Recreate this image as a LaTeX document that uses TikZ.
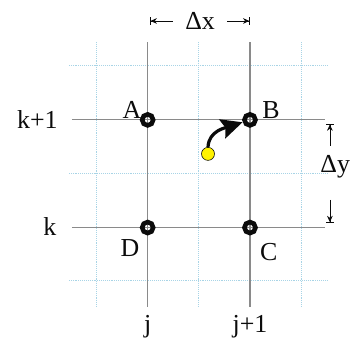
\documentclass[tikz,border=0pt]{standalone}
\usepackage{fontspec}
\setmainfont{Liberation Serif}
\usepackage{tikz}
\usetikzlibrary{arrows.meta,positioning}
\definecolor{mgline}{HTML}{8A8A8A}
\definecolor{mgdot}{HTML}{A8D4E6}
\definecolor{mgpart}{HTML}{FFF200}
\definecolor{mgink}{HTML}{0B0B0B}
\tikzset{
  gridl/.style={draw=mgline,line width=1.2bp},
  gridd/.style={draw=mgdot,line width=0.9bp,densely dotted},
  ring/.style={circle,draw=mgink,line width=4.6bp,minimum size=11bp,inner sep=0pt},
  part/.style={circle,draw=mgink,line width=0.6bp,fill=mgpart,minimum size=13bp,inner sep=0pt},
  lab/.style={font=\fontsize{26}{30}\selectfont,text=mgink,inner sep=0pt},
  flowe/.style={-{Stealth[length=7.5mm,width=7mm,inset=1.2mm]},line width=3.2bp,draw=mgink},
  dime/.style={-{Stealth[length=2.2mm,width=2mm]Bar[width=2.6mm]},line width=0.7bp,draw=mgink},
}

\begin{document}
\begin{tikzpicture}
  \useasboundingbox (0,0) rectangle (12.35,11.99);
  % ================= half-cell lines (dotted) =================
  \foreach \x in {3.41,7.02,10.62}
    \draw[gridd] (\x,1.16) -- (\x,10.51);
  \foreach \y in {2.08,5.86,9.68}
    \draw[gridd] (2.43,\y) -- (11.54,\y);

  % ================= grid lines j, j+1 / k, k+1 =================
  \foreach \x in {5.21,8.82}
    \draw[gridl] (\x,1.16) -- (\x,10.51);
  \foreach \y in {3.96,7.76}
    \draw[gridl] (2.54,\y) -- (11.47,\y);

  % grid points
  \node[ring] (A) at (5.21,7.76) {};
  \node[ring] (B) at (8.82,7.76) {};
  \node[ring] (C) at (8.82,3.96) {};
  \node[ring] (D) at (5.21,3.96) {};
  \node[lab] (labA) at (4.66,8.11) {A};
  \node[lab] (labB) at (9.56,8.11) {B};
  \node[lab] (labC) at (9.48,3.11) {C};
  \node[lab] (labD) at (4.59,3.25) {D};

  % row and column indices
  \node[lab] (kp) at (1.32,7.76) {k+1};
  \node[lab] (k)  at (1.76,3.99) {k};
  \node[lab] (j)  at (5.21,0.46) {j};
  \node[lab] (jp) at (8.82,0.46) {j+1};

  % particle moved to B
  \node[part] (p) at (7.34,6.56) {};
  \draw[flowe] (p.north) to[out=88,in=198] (B);

  % ================= spacings =================
  \node[lab] (dx) at (7.06,11.25) {Δx};
  \coordinate (dxl) at (6.10,11.25);
  \coordinate (dxlb) at (5.29,11.25);
  \coordinate (dxr) at (8.01,11.25);
  \coordinate (dxrb) at (8.82,11.25);
  \draw[dime] (dxl) -- (dxlb);
  \draw[dime] (dxr) -- (dxrb);

  \node[lab] (dy) at (11.83,6.09) {Δy};
  \coordinate (dyu) at (11.64,6.84);
  \coordinate (dyub) at (11.64,7.62);
  \coordinate (dyd) at (11.64,4.94);
  \coordinate (dydb) at (11.64,4.13);
  \draw[dime] (dyu) -- (dyub);
  \draw[dime] (dyd) -- (dydb);
\end{tikzpicture}
\end{document}
